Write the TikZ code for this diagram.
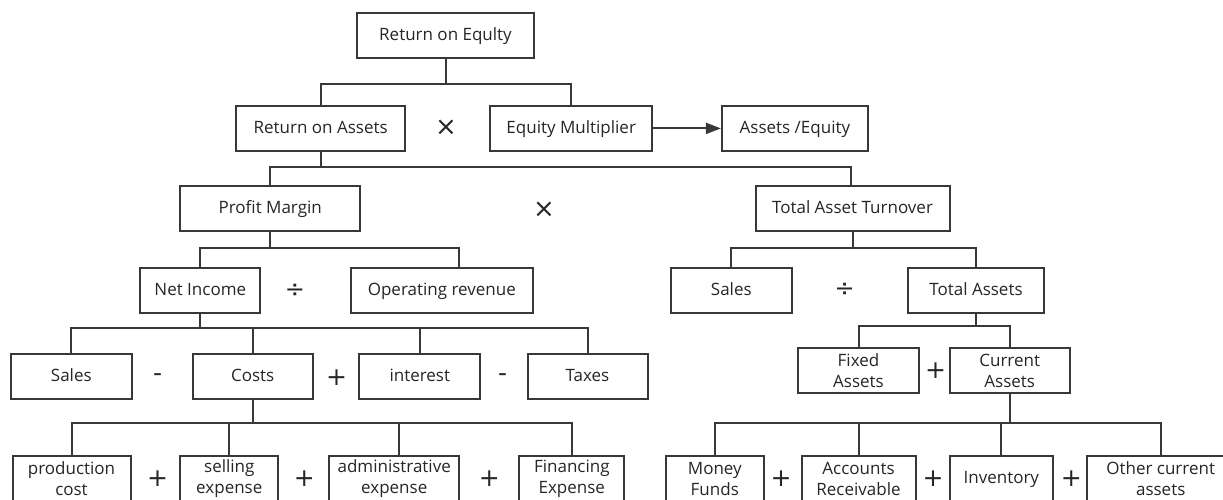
\documentclass[tikz,border=0pt]{standalone}
\usepackage{fontspec}
\setmainfont{Open Sans}
\newfontfamily\opfont{DejaVu Sans}
\usetikzlibrary{arrows.meta}
\definecolor{linec}{HTML}{383838}
\definecolor{textc}{HTML}{262626}
\begin{document}
\begin{tikzpicture}[x=1pt,y=-1pt,
  box/.style={draw=linec, line width=2pt, minimum height=45pt, inner sep=0pt, align=center,
    text=textc, font=\fontsize{17}{20.5}\selectfont},
  one/.style={text height=13.3pt, text depth=3.5pt},
  conn/.style={draw=linec, line width=2pt},
  opx/.style={text=textc, inner sep=0pt, font=\opfont\fontsize{26}{26}\selectfont},
  opd/.style={text=textc, inner sep=0pt, font=\opfont\fontsize{24}{24}\selectfont},
  opp/.style={text=textc, inner sep=0pt, font=\opfont\fontsize{25}{25}\selectfont},
  opm/.style={text=textc, inner sep=0pt, font=\opfont\fontsize{25}{25}\selectfont}]
\fill[white] (0,0) rectangle (1223,499);
\useasboundingbox (0,0) rectangle (1223,499);

% bus levels
\coordinate (b1) at (0,84.3);
\coordinate (b2) at (0,166.7);
\coordinate (b3) at (0,248.3);
\coordinate (b4) at (0,327.7);
\coordinate (b4r) at (0,325.7);
\coordinate (b5) at (0,423.3);

% level 1
\node[box, one, minimum width=177pt] (roe) at (445.5,35.2) {Return on Equlty};
% level 2
\node[box, one, minimum width=169pt] (roa) at (320.7,128.4) {Return on Assets};
\node[box, one, minimum width=162pt] (em) at (571.2,128.4) {Equity Multiplier};
\node[box, one, minimum width=146pt] (ae) at (794.9,128.4) {Assets /Equity};
\node[opx] (x1) at (446,127.7) {×};
% level 3
\node[box, one, minimum width=180pt] (pm) at (270.2,208.5) {Profit Margin};
\node[box, one, minimum width=194pt] (tat) at (852.5,208.5) {Total Asset Turnover};
\node[opx] (x2) at (544,210) {×};
% level 4
\node[box, one, minimum width=120pt] (ni) at (200.3,290.2) {Net Income};
\node[box, one, minimum width=182pt] (orv) at (441.8,290.2) {Operating revenue};
\node[box, one, minimum width=121pt] (sr) at (731.3,290.2) {Sales};
\node[box, one, minimum width=136pt] (ta) at (976,290.2) {Total Assets};
\node[opd] (d1) at (295,291) {÷};
\node[opd] (d2) at (844.7,290) {÷};
% level 5
\node[box, one, minimum width=121pt] (sl) at (71.3,376.8) {Sales};
\node[box, one, minimum width=120pt] (co) at (252.7,376.8) {Costs};
\node[box, one, minimum width=121pt] (it) at (419.8,376.8) {interest};
\node[box, one, minimum width=120pt] (tx) at (587.5,376.8) {Taxes};
\node[opm] (m1) at (157.7,377.2) {-};
\node[opp] (p1) at (336.7,377.7) {+};
\node[opm] (m2) at (502.7,377.2) {-};
\node[box, minimum width=121pt] (fa) at (858.5,370.8) {Fixed\\Assets};
\node[box, minimum width=120pt] (ca) at (1009.7,370.8) {Current\\Assets};
\node[opp] (p2) at (935.7,371) {+};
% level 6
\node[box, minimum width=118pt] (pc) at (71.5,478.8) {production\\cost};
\node[box, minimum width=98pt] (se) at (229.3,478.8) {selling\\expense};
\node[box, minimum width=130pt] (ad) at (394.2,478.8) {administrative\\expense};
\node[box, minimum width=105pt] (fe) at (571.8,478.8) {Financing\\Expense};
\node[box, minimum width=98pt] (mf) at (714.8,478.8) {Money\\Funds};
\node[box, minimum width=114pt] (ar) at (858.5,478.8) {Accounts\\Receivable};
\node[box, one, minimum width=103pt] (iv) at (1001.3,478.8) {Inventory};
\node[box, minimum width=147pt] (oc) at (1160.7,478.8) {Other current\\assets};
\node[opp] (p3) at (157.7,478.3) {+};
\node[opp] (p4) at (304.3,478.3) {+};
\node[opp] (p5) at (489.3,478.3) {+};
\node[opp] (p6) at (781,478.3) {+};
\node[opp] (p7) at (933,478.3) {+};
\node[opp] (p8) at (1071.3,478.3) {+};

% connectors
\draw[conn] (roe.south) -- (roe.south |- b1);
\draw[conn] (roa.north) |- (em.north |- b1) -- (em.north);
\draw[conn, -{Triangle[length=15pt,width=11pt]}] (em.east) -- (ae.west);

\draw[conn] (roa.south) -- (roa.south |- b2);
\draw[conn] (pm.north) |- ([xshift=-2pt]tat.north |- b2) -- ([xshift=-2pt]tat.north);

\draw[conn] (pm.south) -- (pm.south |- b3);
\draw[conn] (ni.north) |- ([xshift=16.9pt]orv.north |- b3) -- ([xshift=16.9pt]orv.north);
\draw[conn] (tat.south) -- (tat.south |- b3);
\draw[conn] (sr.north) |- (ta.north |- b3) -- (ta.north);

\draw[conn] (ni.south) -- (ni.south |- b4);
\draw[conn] (sl.north) |- (tx.north |- b4) -- (tx.north);
\draw[conn] (co.north) -- (co.north |- b4);
\draw[conn] (it.north) -- (it.north |- b4);

\draw[conn] (ta.south) -- (ta.south |- b4r);
\draw[conn] (fa.north) |- (ca.north |- b4r) -- (ca.north);

\draw[conn] (co.south) -- (co.south |- b5);
\draw[conn] (pc.north) |- (fe.north |- b5) -- (fe.north);
\draw[conn] (se.north) -- (se.north |- b5);
\draw[conn] ([xshift=4.5pt]ad.north) -- ([xshift=4.5pt]ad.north |- b5);

\draw[conn] (ca.south) -- (ca.south |- b5);
\draw[conn] (mf.north) |- (oc.north |- b5) -- (oc.north);
\draw[conn] (ar.north) -- (ar.north |- b5);
\draw[conn] (iv.north) -- (iv.north |- b5);
\end{tikzpicture}
\end{document}
